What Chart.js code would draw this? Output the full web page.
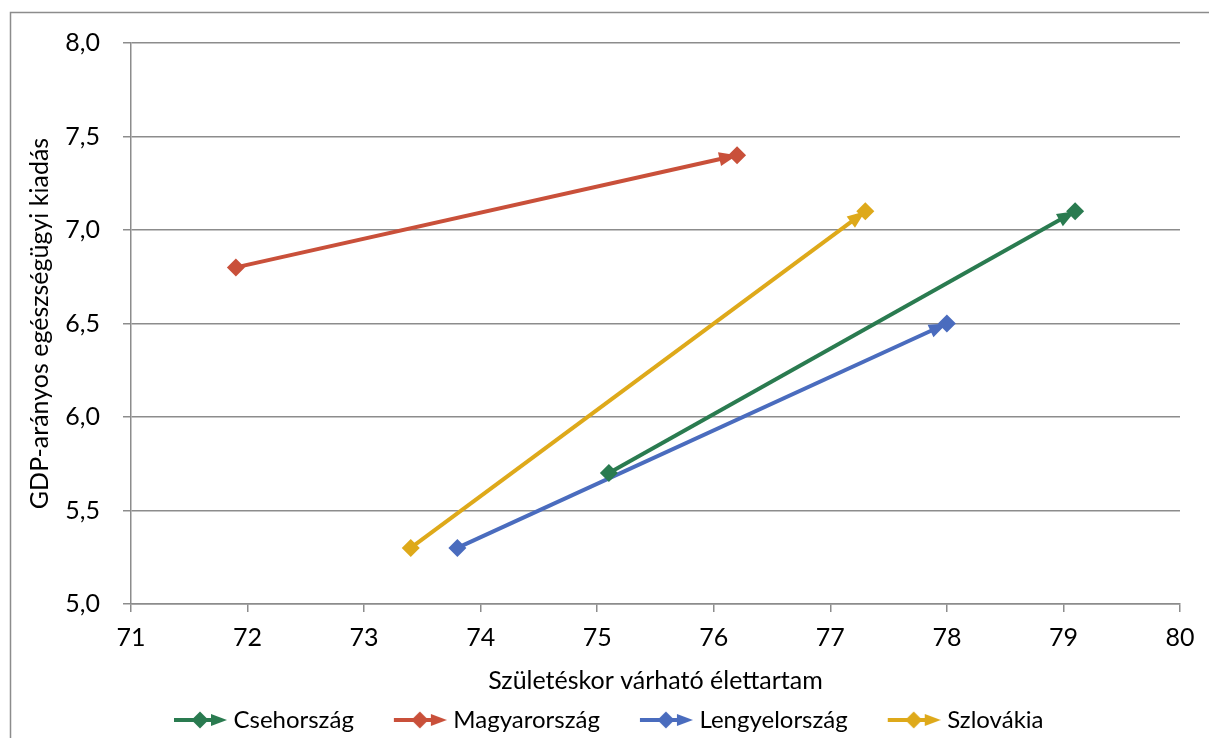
<!DOCTYPE html>
<html>
<head>
<meta charset="utf-8">
<script src="https://cdn.jsdelivr.net/npm/chart.js@4.4.0/dist/chart.umd.min.js"></script>
<style>
  html, body { margin: 0; padding: 0; background: #fff; }
</style>
</head>
<body>
<canvas id="chart" width="1209" height="738"></canvas>
<script>
const countries = ['Csehország', 'Magyarország', 'Lengyelország', 'Szlovákia'];
const colors = ['#2A7B50', '#C9503A', '#4A6CBE', '#DEA91A'];
// life expectancy (x) and GDP share of health spending (y), start -> end
const lifeExp = [[75.1, 79.1], [71.9, 76.2], [73.8, 78.0], [73.4, 77.3]];
const gdpShare = [[5.7, 7.1], [6.8, 7.4], [5.3, 6.5], [5.3, 7.1]];
const xRange = [71, 80];
const yRange = [5, 8];

const FONT = 'Lato';
const FS = 25;
const gray = '#8C8C8C';
const ICON_BOX = 85;   // legend box width
const ICON_OVER = 5.5; // icon canvas overhang on each side
const BOTTOM_PAD = -4; // pushes the legend a bit lower

function legendIcon(color) {
  const c = document.createElement('canvas');
  c.width = ICON_BOX + 2 * ICON_OVER; c.height = 20;
  const ctx = c.getContext('2d');
  const o = c.width - 53;
  ctx.strokeStyle = color;
  ctx.fillStyle = color;
  ctx.lineWidth = 4;
  ctx.beginPath();
  ctx.moveTo(o, 10);
  ctx.lineTo(o + 42, 10);
  ctx.stroke();
  ctx.beginPath();
  ctx.moveTo(o + 26, 1.5); ctx.lineTo(o + 34.5, 10); ctx.lineTo(o + 26, 18.5); ctx.lineTo(o + 17.5, 10);
  ctx.closePath(); ctx.fill();
  ctx.beginPath();
  ctx.moveTo(o + 37, 4); ctx.lineTo(o + 53, 10); ctx.lineTo(o + 37, 16);
  ctx.closePath(); ctx.fill();
  return c;
}

const framePlugin = {
  id: 'frame',
  beforeDraw(chart) {
    const ctx = chart.ctx;
    ctx.save();
    ctx.fillStyle = '#fff';
    ctx.fillRect(0, 0, chart.width, chart.height);
    ctx.strokeStyle = gray;
    ctx.lineWidth = 1.5;
    ctx.beginPath();
    ctx.moveTo(10.5, chart.height);
    ctx.lineTo(10.5, 12.5);
    ctx.lineTo(chart.width, 12.5);
    ctx.stroke();
    ctx.restore();
  }
};

const arrowPlugin = {
  id: 'arrows',
  beforeDatasetsDraw(chart) {
    const ctx = chart.ctx;
    const xs = chart.scales.x, ys = chart.scales.y;
    chart.data.datasets.forEach(ds => {
      const n = ds.data.length;
      const a = ds.data[n - 2], b = ds.data[n - 1];
      const x1 = xs.getPixelForValue(a.x), y1 = ys.getPixelForValue(a.y);
      const x2 = xs.getPixelForValue(b.x), y2 = ys.getPixelForValue(b.y);
      const ang = Math.atan2(y2 - y1, x2 - x1);
      const len = 18, hw = 7;
      ctx.save();
      ctx.translate(x2, y2);
      ctx.rotate(ang);
      ctx.fillStyle = ds.borderColor;
      ctx.beginPath();
      ctx.moveTo(0, 0);
      ctx.lineTo(-len, -hw);
      ctx.lineTo(-len, hw);
      ctx.closePath();
      ctx.fill();
      ctx.restore();
    });
  }
};

const datasets = countries.map((name, i) => ({
  label: name,
  data: lifeExp[i].map((x, j) => ({ x, y: gdpShare[i][j] })),
  showLine: true,
  borderColor: colors[i],
  backgroundColor: colors[i],
  borderWidth: 4,
  pointStyle: 'rectRot',
  pointRadius: 9,
  pointHoverRadius: 9,
  pointBorderWidth: 0
}));

new Chart(document.getElementById('chart'), {
  type: 'scatter',
  data: { datasets },
  options: {
    responsive: false,
    animation: false,
    layout: { padding: { top: 43, right: 29, left: 0, bottom: BOTTOM_PAD } },
    scales: {
      x: {
        type: 'linear',
        min: xRange[0], max: xRange[1],
        ticks: { stepSize: 1, color: '#000', padding: 11, font: { family: FONT, size: FS } },
        grid: { drawOnChartArea: false, color: gray, lineWidth: 1.5, tickLength: 8 },
        border: { color: gray, width: 1.5 },
        title: {
          display: true, text: 'Születéskor várható élettartam', color: '#000',
          font: { family: FONT, size: FS }, padding: { top: 0, bottom: 10 }
        },
        afterFit(s) {
          s.height = s.chart.height - BOTTOM_PAD - 604 - (s.chart.legend ? s.chart.legend.height : 0);
        }
      },
      y: {
        type: 'linear',
        min: yRange[0], max: yRange[1],
        ticks: {
          stepSize: 0.5, color: '#000', padding: 23, font: { family: FONT, size: FS },
          callback: v => v.toFixed(1).replace('.', ',')
        },
        grid: { color: gray, lineWidth: 1.5, tickLength: 8 },
        border: { color: gray, width: 1.5 },
        title: {
          display: true, text: 'GDP-arányos egészségügyi kiadás', color: '#000',
          font: { family: FONT, size: FS }, padding: { top: 25, bottom: 0 }
        },
        afterFit(s) { s.width = 131; }
      }
    },
    plugins: {
      tooltip: { enabled: false },
      legend: {
        position: 'bottom',
        labels: {
          usePointStyle: true,
          pointStyleWidth: ICON_BOX,
          boxHeight: 20,
          padding: 2.5,
          color: '#000',
          font: { family: FONT, size: 24, lineHeight: 0.8 },
          generateLabels: chart => chart.data.datasets.map((ds, i) => ({
            text: ds.label,
            pointStyle: legendIcon(ds.borderColor),
            fillStyle: ds.borderColor,
            strokeStyle: ds.borderColor,
            lineWidth: 0,
            fontColor: '#000',
            datasetIndex: i,
            hidden: false
          }))
        }
      }
    }
  },
  plugins: [framePlugin, arrowPlugin]
});
</script>
</body>
</html>
